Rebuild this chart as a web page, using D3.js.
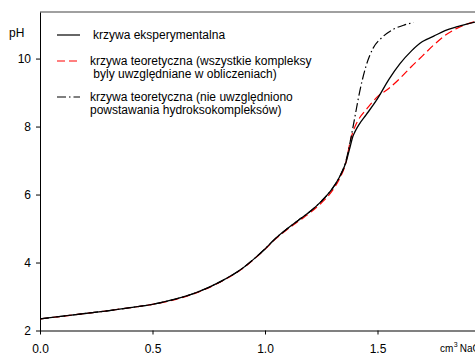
<!DOCTYPE html>
<html>
<head>
<meta charset="utf-8">
<script src="https://cdn.jsdelivr.net/npm/d3@7"></script>
<style>
  body { margin: 0; background: #fff; }
  svg { display: block; font-family: "Liberation Sans", Arial, sans-serif; }
</style>
</head>
<body>
<div id="chart"></div>
<script>
// titration curves: [cm3 NaOH, pH]
var experimental = [
  [0.00, 2.34], [0.10, 2.42], [0.20, 2.50], [0.30, 2.58], [0.40, 2.67],
  [0.50, 2.77], [0.60, 2.92], [0.70, 3.13], [0.80, 3.43], [0.90, 3.83],
  [0.95, 4.10], [1.00, 4.40], [1.05, 4.73], [1.10, 5.00], [1.15, 5.25],
  [1.20, 5.50], [1.25, 5.80], [1.30, 6.18], [1.33, 6.50], [1.36, 6.95],
  [1.38, 7.45], [1.39, 7.70], [1.40, 7.85], [1.42, 8.08], [1.45, 8.35],
  [1.50, 8.82], [1.55, 9.38], [1.60, 9.85], [1.65, 10.22], [1.70, 10.50],
  [1.75, 10.66], [1.80, 10.82], [1.85, 10.93], [1.90, 11.02], [1.95, 11.10]
];

var theoryAll = [
  [0.00, 2.34], [0.10, 2.42], [0.20, 2.50], [0.30, 2.58], [0.40, 2.67],
  [0.50, 2.77], [0.60, 2.91], [0.70, 3.12], [0.80, 3.42], [0.90, 3.82],
  [0.95, 4.09], [1.00, 4.39], [1.05, 4.71], [1.10, 4.98], [1.15, 5.22],
  [1.20, 5.46], [1.25, 5.75], [1.30, 6.12], [1.33, 6.45], [1.36, 6.95],
  [1.38, 7.60], [1.40, 8.00], [1.42, 8.25], [1.45, 8.50], [1.50, 8.88],
  [1.55, 9.12], [1.60, 9.42], [1.65, 9.76], [1.70, 10.08], [1.75, 10.40],
  [1.80, 10.68], [1.85, 10.88], [1.90, 11.02], [1.95, 11.12]
];

var theoryNoHydroxo = [
  [0.00, 2.34], [0.10, 2.42], [0.20, 2.50], [0.30, 2.58], [0.40, 2.67],
  [0.50, 2.77], [0.60, 2.92], [0.70, 3.13], [0.80, 3.43], [0.90, 3.83],
  [0.95, 4.10], [1.00, 4.40], [1.05, 4.73], [1.10, 5.00], [1.15, 5.25],
  [1.20, 5.50], [1.25, 5.80], [1.30, 6.18], [1.33, 6.50], [1.36, 7.00],
  [1.38, 7.60], [1.40, 8.30], [1.42, 9.00], [1.45, 9.80], [1.48, 10.30],
  [1.52, 10.62], [1.57, 10.86], [1.62, 10.99], [1.66, 11.06]
];

var xTicks = [0, 0.5, 1.0, 1.5];
var yTicks = [2, 4, 6, 8, 10];

var legendItems = [
  {lines: ["krzywa eksperymentalna"], color: "#000", dash: null},
  {lines: ["krzywa teoretyczna (wszystkie kompleksy", " byly uwzględniane w obliczeniach)"], color: "#ff0000", dash: "8,4"},
  {lines: ["krzywa teoretyczna (nie uwzględniono", "powstawania hydroksokompleksów)"], color: "#000", dash: "9,3,1.5,3"}
];

var W = 475, H = 358;
var margin = {top: 12, left: 40, bottom: 330.5, right: 490};
var fontSize = 12;

var svg = d3.select("#chart").append("svg")
    .attr("width", W)
    .attr("height", H);

var x = d3.scaleLinear().domain([0, 2]).range([margin.left, margin.right]);
var y = d3.scaleLinear().domain([2, 11.37]).range([margin.bottom, margin.top]);

// frame: top edge and bottom axis are grey
svg.append("line")
    .attr("x1", margin.left).attr("x2", W)
    .attr("y1", margin.top).attr("y2", margin.top)
    .attr("stroke", "#808080").attr("stroke-width", 1.5);

var xAxis = svg.append("g")
    .attr("transform", "translate(0," + margin.bottom + ")")
    .call(d3.axisBottom(x).tickValues(xTicks).tickFormat(d3.format(".1f")).tickSize(4).tickSizeOuter(0));
xAxis.select(".domain").attr("stroke", "#808080").attr("stroke-width", 2);
xAxis.selectAll(".tick line").attr("stroke", "#000");
xAxis.selectAll(".tick text")
    .attr("dy", "0")
    .attr("y", 22)
    .attr("font-size", fontSize)
    .attr("fill", "#000");

var yAxis = svg.append("g")
    .attr("transform", "translate(" + margin.left + ",0)")
    .call(d3.axisLeft(y).tickValues(yTicks).tickSize(4).tickSizeOuter(0));
yAxis.select(".domain").attr("stroke", "#000");
yAxis.selectAll(".tick text")
    .attr("x", -9)
    .attr("font-size", fontSize)
    .attr("fill", "#000");
xAxis.attr("font-family", null);
yAxis.attr("font-family", null);

svg.append("text")
    .attr("x", 9).attr("y", 37)
    .attr("font-size", fontSize)
    .text("pH");

var unit = svg.append("text")
    .attr("x", 440).attr("y", 352)
    .attr("font-size", 10);
unit.append("tspan").text("cm");
unit.append("tspan").attr("font-size", 7).attr("dy", -5).attr("dx", 0.5).text("3");
unit.append("tspan").attr("dy", 5).attr("dx", 2).text("NaOH");

var line = d3.line()
    .x(function(d) { return x(d[0]); })
    .y(function(d) { return y(d[1]); })
    .curve(d3.curveMonotoneX);

var plot = svg.append("g");

plot.append("path")
    .datum(theoryAll)
    .attr("d", line)
    .attr("fill", "none")
    .attr("stroke", "#ff0000")
    .attr("stroke-width", 1.2)
    .attr("stroke-dasharray", "8,4");

plot.append("path")
    .datum(theoryNoHydroxo)
    .attr("d", line)
    .attr("fill", "none")
    .attr("stroke", "#000")
    .attr("stroke-width", 1.2)
    .attr("stroke-dasharray", "9,3,1.5,3");

plot.append("path")
    .datum(experimental)
    .attr("d", line)
    .attr("fill", "none")
    .attr("stroke", "#000")
    .attr("stroke-width", 1.3);

// legend
var legendY = [35, 61, 97];
var legend = svg.selectAll(".legend")
    .data(legendItems)
  .enter().append("g")
    .attr("class", "legend")
    .attr("transform", function(d, i) { return "translate(0," + legendY[i] + ")"; });

legend.append("line")
    .attr("x1", 57).attr("x2", 80)
    .attr("y1", 0).attr("y2", 0)
    .attr("stroke", function(d) { return d.color; })
    .attr("stroke-width", 1.2)
    .attr("stroke-dasharray", function(d) { return d.dash; });

legend.each(function(d, i) {
  var g = d3.select(this);
  d.lines.forEach(function(s, j) {
    g.append("text")
      .attr("x", i === 0 ? 93 : 90)
      .attr("y", 4 + j * 12.5)
      .attr("font-size", fontSize)
      .style("white-space", "pre")
      .text(s);
  });
});
</script>
</body>
</html>
